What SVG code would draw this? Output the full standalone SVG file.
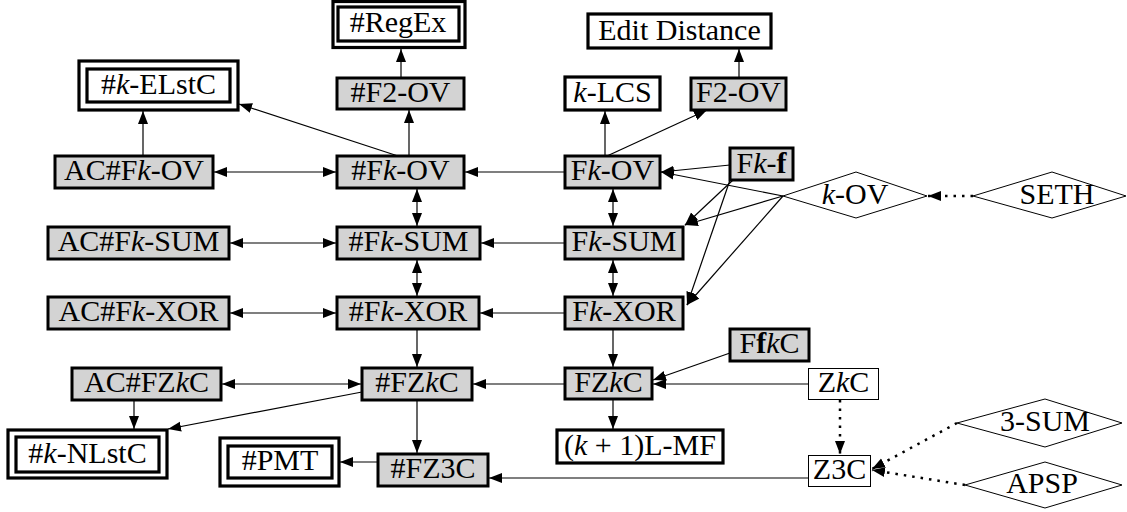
<svg xmlns="http://www.w3.org/2000/svg" width="1127" height="512" viewBox="0 0 1127 512">
<defs>
<style>
text{font-family:"Liberation Serif","Times New Roman",serif;font-size:30px;fill:#000;text-anchor:middle}
.i{font-style:italic}
.b{font-weight:bold}
.g{fill:#d3d3d3;stroke:#000;stroke-width:3}
.w{fill:#fff;stroke:#000;stroke-width:3.2}
.t{fill:#fff;stroke:#000;stroke-width:1}
.d{fill:#fff;stroke:#000;stroke-width:1}
.e{fill:none;stroke:#000;stroke-width:1.2}
.dot{fill:none;stroke:#000;stroke-width:2.5;stroke-dasharray:2.5 6}
.a{marker-end:url(#ah)}
.ab{marker-end:url(#ah);marker-start:url(#ah)}
</style>
<marker id="ah" markerUnits="userSpaceOnUse" markerWidth="14" markerHeight="12" refX="13" refY="5.5" orient="auto-start-reverse" viewBox="0 0 14 12">
<path d="M0,0.5 L13,5.5 L0,10.5 z" fill="#000"/>
</marker>
</defs>
<rect width="1127" height="512" fill="#fff"/>
<g id="connectors">
<line class="e a" x1="401" y1="78" x2="401" y2="49"/>
<line class="e a" x1="409" y1="156" x2="409" y2="110"/>
<line class="e a" x1="398" y1="156" x2="239" y2="104"/>
<line class="e a" x1="143" y1="156" x2="143" y2="111"/>
<line class="e ab" x1="214" y1="172" x2="336" y2="172"/>
<line class="e a" x1="565" y1="172" x2="465" y2="172"/>
<line class="e a" x1="605" y1="156" x2="605" y2="111"/>
<line class="e a" x1="607" y1="156" x2="707" y2="110"/>
<line class="e a" x1="739" y1="78" x2="739" y2="49"/>
<line class="e a" x1="730" y1="165" x2="661" y2="172"/>
<line class="e a" x1="783" y1="196" x2="661" y2="172"/>
<line class="e a" x1="733" y1="180" x2="685" y2="225"/>
<line class="e a" x1="783" y1="196" x2="685" y2="225"/>
<line class="e a" x1="730" y1="180" x2="687" y2="305"/>
<line class="e a" x1="783" y1="196" x2="687" y2="305"/>
<line class="dot a" x1="973" y1="196" x2="928" y2="196"/>
<line class="e ab" x1="417" y1="189" x2="417" y2="226"/>
<line class="e ab" x1="417" y1="260" x2="417" y2="296"/>
<line class="e ab" x1="613" y1="189" x2="613" y2="226"/>
<line class="e ab" x1="613" y1="260" x2="613" y2="296"/>
<line class="e ab" x1="230" y1="243" x2="336" y2="243"/>
<line class="e ab" x1="230" y1="313" x2="336" y2="313"/>
<line class="e a" x1="565" y1="243" x2="481" y2="243"/>
<line class="e a" x1="565" y1="313" x2="480" y2="313"/>
<line class="e a" x1="417" y1="329" x2="417" y2="367"/>
<line class="e a" x1="613" y1="329" x2="613" y2="367"/>
<line class="e ab" x1="222" y1="384" x2="361" y2="384"/>
<line class="e a" x1="565" y1="384" x2="473" y2="384"/>
<line class="e a" x1="134" y1="400" x2="134" y2="429"/>
<line class="e a" x1="362" y1="392" x2="168" y2="429"/>
<line class="e a" x1="417" y1="400" x2="417" y2="453"/>
<line class="e a" x1="378" y1="462" x2="340" y2="462"/>
<line class="e a" x1="730" y1="353" x2="653" y2="380"/>
<line class="e a" x1="808" y1="384" x2="653" y2="384"/>
<line class="e a" x1="613" y1="399" x2="613" y2="429"/>
<line class="dot a" x1="840" y1="400" x2="840" y2="454"/>
<line class="e a" x1="808" y1="478" x2="489" y2="478"/>
<line class="dot a" x1="957" y1="423" x2="872" y2="469"/>
<line class="dot a" x1="965" y1="485" x2="872" y2="470"/>
</g>
<g id="n-RegEx">
<rect class="w" x="333" y="1.5" width="132" height="46"/>
<rect class="w" x="338" y="7" width="121" height="34"/>
<text x="398" y="32">#RegEx</text>
</g>
<g id="n-kELstC">
<rect class="w" x="79" y="61" width="159" height="49"/>
<rect class="w" x="87" y="69" width="143" height="33"/>
<text x="158.5" y="94">#<tspan class="i">k</tspan>-ELstC</text>
</g>
<g id="n-sF2OV">
<rect class="g" x="337" y="78" width="127" height="31"/>
<text x="400.5" y="102">#F2-OV</text>
</g>
<g id="n-EditDistance">
<rect class="w" x="588" y="14" width="183" height="34"/>
<text x="679.5" y="39.5">Edit Distance</text>
</g>
<g id="n-kLCS">
<rect class="w" x="565" y="77" width="95" height="33"/>
<text x="612.5" y="102"><tspan class="i">k</tspan>-LCS</text>
</g>
<g id="n-F2OV">
<rect class="g" x="691" y="78" width="95" height="32"/>
<text x="738.5" y="102">F2-OV</text>
</g>
<g id="n-ACsFkOV">
<rect class="g" x="55" y="156" width="158" height="32"/>
<text x="134" y="180">AC#F<tspan class="i">k</tspan>-OV</text>
</g>
<g id="n-sFkOV">
<rect class="g" x="337" y="156" width="127" height="32"/>
<text x="400.5" y="180">#F<tspan class="i">k</tspan>-OV</text>
</g>
<g id="n-FkOV">
<rect class="g" x="565" y="156" width="95" height="32"/>
<text x="612.5" y="180">F<tspan class="i">k</tspan>-OV</text>
</g>
<g id="n-Fkf">
<rect class="g" x="730" y="148" width="63" height="32"/>
<text x="761.5" y="172.5">F<tspan class="i">k</tspan>-<tspan class="b">f</tspan></text>
</g>
<g id="n-kOV">
<polygon class="d" points="783,196 856,172 927,196 856,218"/>
<text x="855" y="204"><tspan class="i">k</tspan>-OV</text>
</g>
<g id="n-SETH">
<polygon class="d" points="973,196 1052,172 1126,196 1052,218"/>
<text x="1057" y="204">SETH</text>
</g>
<g id="n-ACsFkSUM">
<rect class="g" x="48" y="227" width="181" height="32"/>
<text x="138.5" y="251">AC#F<tspan class="i">k</tspan>-SUM</text>
</g>
<g id="n-sFkSUM">
<rect class="g" x="337" y="227" width="143" height="32"/>
<text x="408.5" y="251">#F<tspan class="i">k</tspan>-SUM</text>
</g>
<g id="n-FkSUM">
<rect class="g" x="565" y="227" width="118" height="32"/>
<text x="624" y="251">F<tspan class="i">k</tspan>-SUM</text>
</g>
<g id="n-ACsFkXOR">
<rect class="g" x="48" y="297" width="181" height="32"/>
<text x="138.5" y="321">AC#F<tspan class="i">k</tspan>-XOR</text>
</g>
<g id="n-sFkXOR">
<rect class="g" x="337" y="297" width="142" height="32"/>
<text x="408" y="321">#F<tspan class="i">k</tspan>-XOR</text>
</g>
<g id="n-FkXOR">
<rect class="g" x="565" y="297" width="118" height="32"/>
<text x="624" y="321">F<tspan class="i">k</tspan>-XOR</text>
</g>
<g id="n-FfkC">
<rect class="g" x="730" y="329" width="79" height="32"/>
<text x="769.5" y="353">F<tspan class="b">f</tspan><tspan class="i">k</tspan>C</text>
</g>
<g id="n-ACsFZkC">
<rect class="g" x="72" y="368" width="149" height="32"/>
<text x="146.5" y="392">AC#FZ<tspan class="i">k</tspan>C</text>
</g>
<g id="n-sFZkC">
<rect class="g" x="362" y="368" width="110" height="32"/>
<text x="417" y="392">#FZ<tspan class="i">k</tspan>C</text>
</g>
<g id="n-FZkC">
<rect class="g" x="565" y="368" width="87" height="31"/>
<text x="608.5" y="392">FZ<tspan class="i">k</tspan>C</text>
</g>
<g id="n-ZkC">
<rect class="t" x="808.5" y="368.5" width="70" height="31"/>
<text x="843.5" y="392">Z<tspan class="i">k</tspan>C</text>
</g>
<g id="n-k1LMF">
<rect class="w" x="557" y="430" width="166" height="33"/>
<text x="640" y="455">(<tspan class="i">k</tspan> + 1)L-MF</text>
</g>
<g id="n-kNLstC">
<rect class="w" x="8" y="430" width="159" height="48"/>
<rect class="w" x="16" y="437" width="143" height="35"/>
<text x="87.5" y="463">#<tspan class="i">k</tspan>-NLstC</text>
</g>
<g id="n-PMT">
<rect class="w" x="220" y="438" width="119" height="48"/>
<rect class="w" x="228" y="446" width="104" height="32"/>
<text x="280" y="470">#PMT</text>
</g>
<g id="n-sFZ3C">
<rect class="g" x="378" y="454" width="110" height="32"/>
<text x="433" y="478">#FZ3C</text>
</g>
<g id="n-Z3C">
<rect class="t" x="808.5" y="455.5" width="62" height="31"/>
<text x="839.5" y="479">Z3C</text>
</g>
<g id="n-3SUM">
<polygon class="d" points="957,423 1045,399 1122,423 1045,447"/>
<text x="1045" y="431">3-SUM</text>
</g>
<g id="n-APSP">
<polygon class="d" points="965,485 1045,462 1122,485 1045,508"/>
<text x="1042" y="493">APSP</text>
</g>
</svg>
